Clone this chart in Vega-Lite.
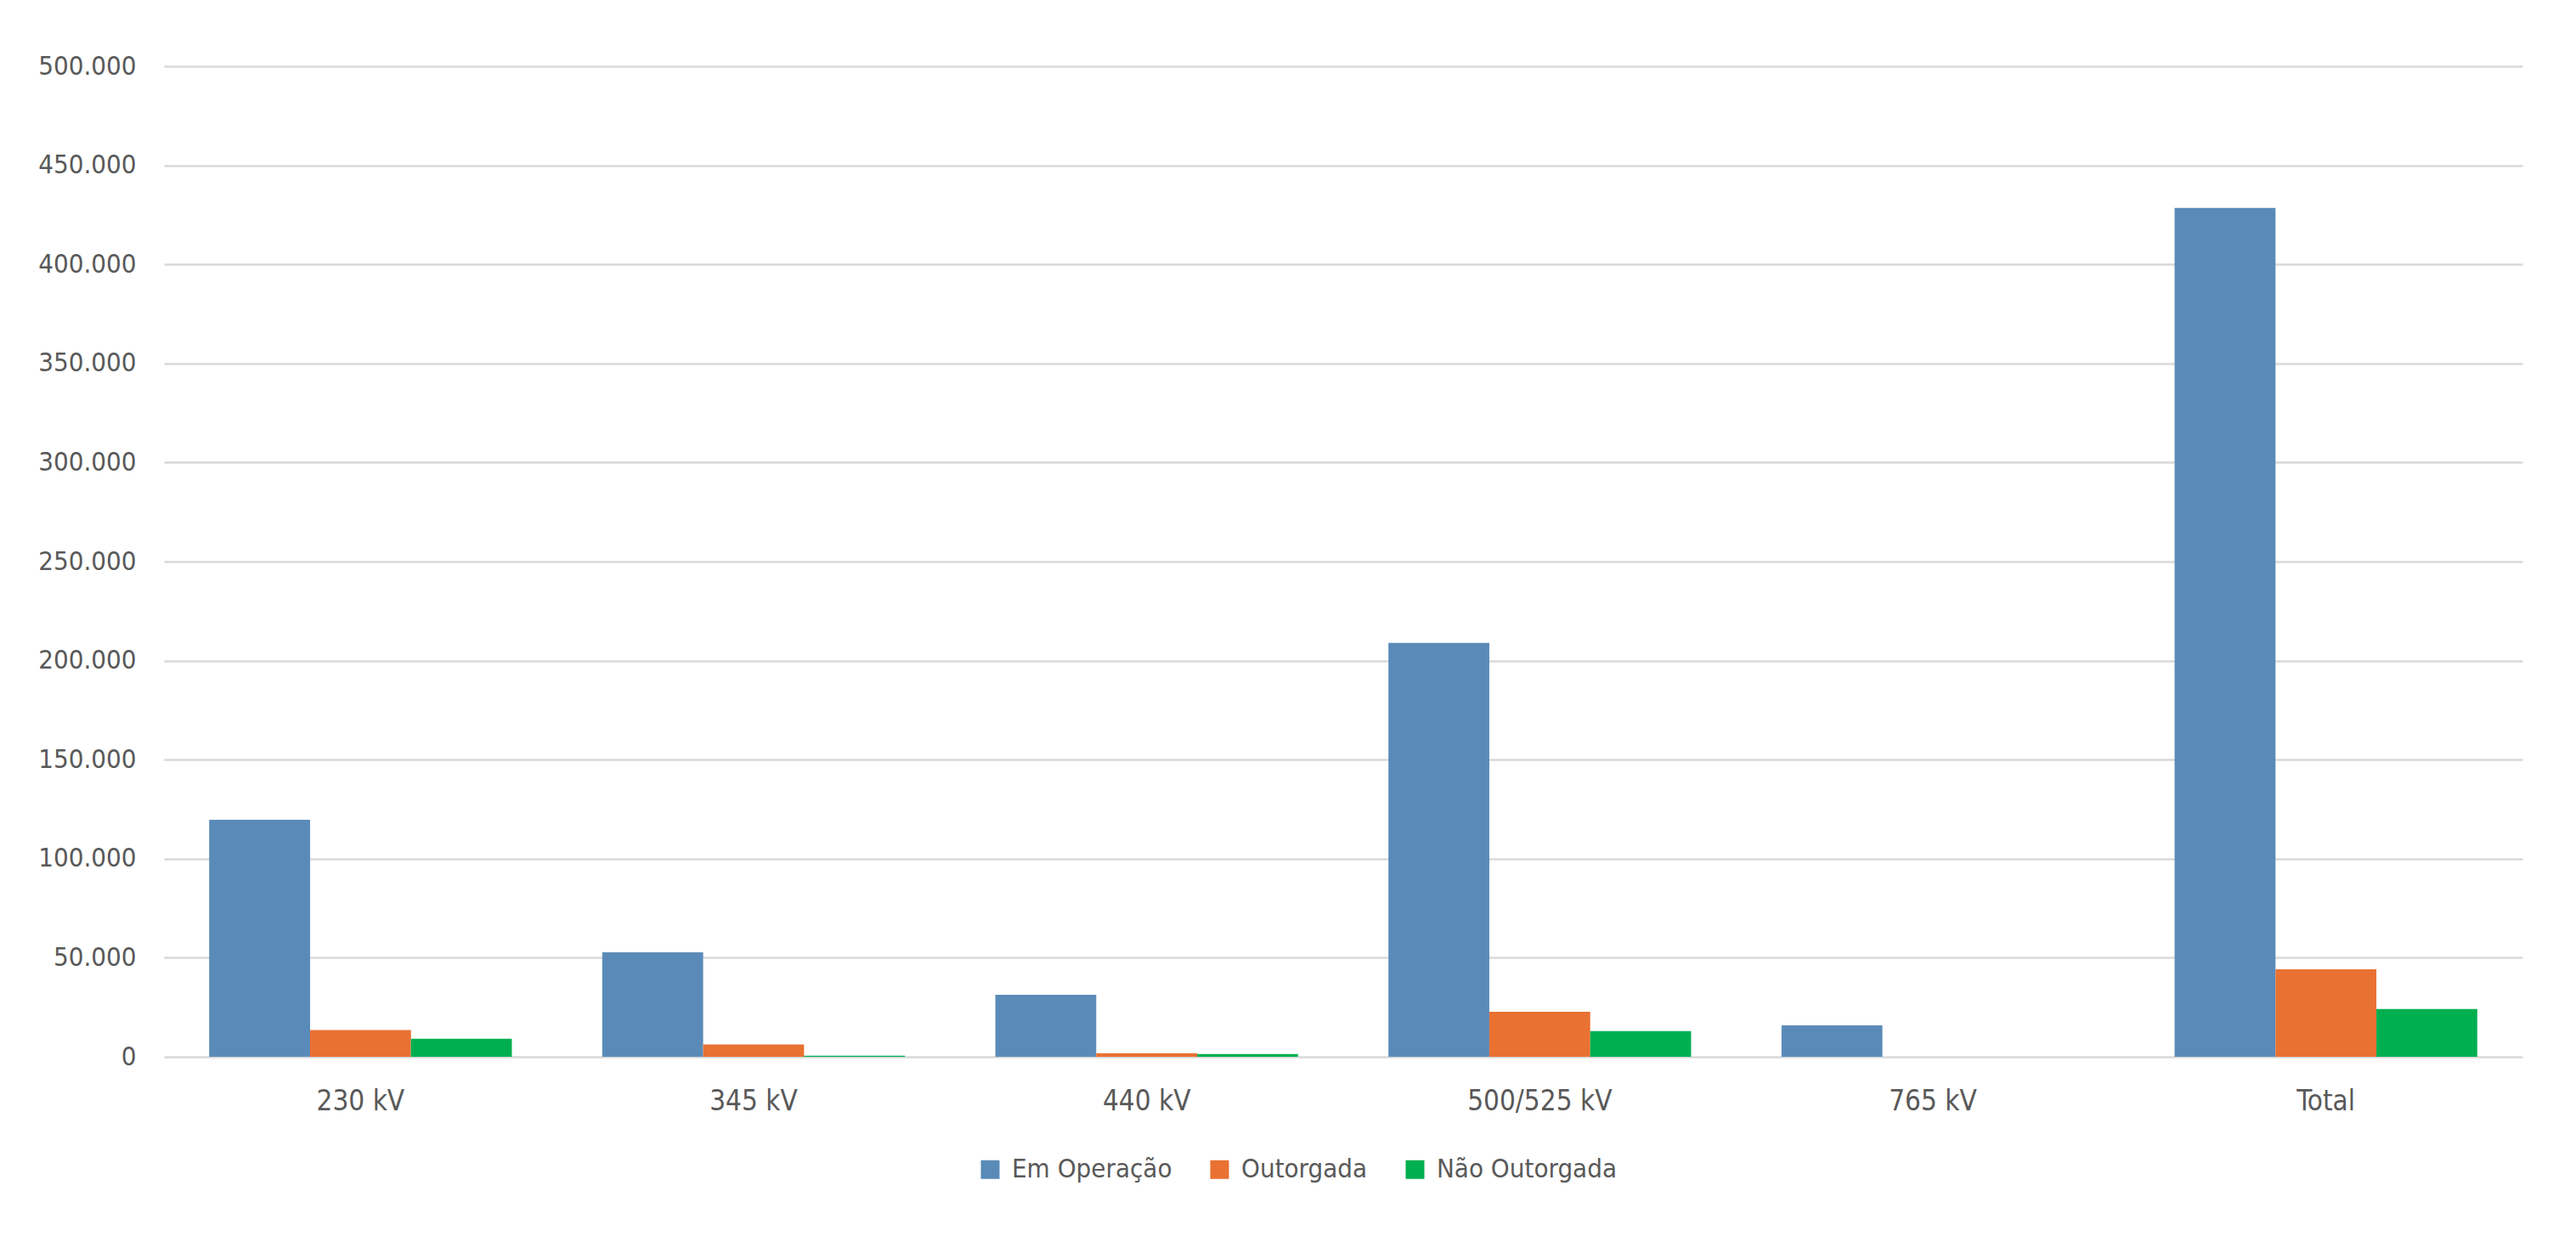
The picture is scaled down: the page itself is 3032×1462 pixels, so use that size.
{
  "$schema": "https://vega.github.io/schema/vega-lite/v6.json",
  "width": 2776,
  "height": 1166,
  "autosize": "none",
  "padding": {"left": 193, "top": 78, "right": 63, "bottom": 218},
  "background": "white",
  "config": {
    "view": {"stroke": null},
    "font": "Liberation Sans Narrow, DejaVu Sans Condensed, Roboto, sans-serif",
    "axis": {"labelFont": "Liberation Sans Narrow, DejaVu Sans Condensed, Roboto, sans-serif", "labelColor": "#595959", "labelLimit": 0}
  },
  "data": {
    "values": [
      {"tensao": "230 kV", "situacao": "Em Operação", "km": 119600},
      {"tensao": "230 kV", "situacao": "Outorgada", "km": 13500},
      {"tensao": "230 kV", "situacao": "Não Outorgada", "km": 9100},
      {"tensao": "345 kV", "situacao": "Em Operação", "km": 52700},
      {"tensao": "345 kV", "situacao": "Outorgada", "km": 6200},
      {"tensao": "345 kV", "situacao": "Não Outorgada", "km": 500},
      {"tensao": "440 kV", "situacao": "Em Operação", "km": 31300},
      {"tensao": "440 kV", "situacao": "Outorgada", "km": 1800},
      {"tensao": "440 kV", "situacao": "Não Outorgada", "km": 1400},
      {"tensao": "500/525 kV", "situacao": "Em Operação", "km": 208900},
      {"tensao": "500/525 kV", "situacao": "Outorgada", "km": 22700},
      {"tensao": "500/525 kV", "situacao": "Não Outorgada", "km": 13000},
      {"tensao": "765 kV", "situacao": "Em Operação", "km": 15900},
      {"tensao": "765 kV", "situacao": "Outorgada", "km": 0},
      {"tensao": "765 kV", "situacao": "Não Outorgada", "km": 0},
      {"tensao": "Total", "situacao": "Em Operação", "km": 428500},
      {"tensao": "Total", "situacao": "Outorgada", "km": 44200},
      {"tensao": "Total", "situacao": "Não Outorgada", "km": 24100}
    ]
  },
  "mark": {"type": "bar"},
  "encoding": {
    "x": {
      "field": "tensao",
      "type": "nominal",
      "sort": null,
      "title": null,
      "scale": {"paddingInner": 0.23, "paddingOuter": 0.115},
      "axis": {
        "domain": false,
        "ticks": false,
        "grid": false,
        "labelAngle": 0,
        "labelFontSize": 33,
        "labelPadding": 36
      }
    },
    "xOffset": {
      "field": "situacao",
      "type": "nominal",
      "sort": ["Em Operação", "Outorgada", "Não Outorgada"],
      "scale": {"paddingInner": 0, "paddingOuter": 0}
    },
    "y": {
      "field": "km",
      "type": "quantitative",
      "title": null,
      "scale": {"domain": [0, 500000], "nice": false},
      "axis": {
        "values": [0, 50000, 100000, 150000, 200000, 250000, 300000, 350000, 400000, 450000, 500000],
        "labelExpr": "replace(format(datum.value, ','), ',', '.')",
        "domain": false,
        "ticks": false,
        "gridColor": "#d9d9d9",
        "gridWidth": 2.5,
        "labelFontSize": 31,
        "labelPadding": 33
      }
    },
    "color": {
      "field": "situacao",
      "type": "nominal",
      "sort": ["Em Operação", "Outorgada", "Não Outorgada"],
      "scale": {
        "domain": ["Em Operação", "Outorgada", "Não Outorgada"],
        "range": ["#5a8bb8", "#e97132", "#00af50"]
      },
      "legend": {
        "title": null,
        "orient": "none",
        "direction": "horizontal",
        "legendX": 957,
        "legendY": 1283,
        "symbolType": "square",
        "symbolSize": 484,
        "symbolStrokeWidth": 0,
        "labelFont": "Liberation Sans Narrow, DejaVu Sans Condensed, Roboto, sans-serif",
        "labelFontSize": 31,
        "labelColor": "#595959",
        "labelLimit": 0,
        "labelOffset": 10,
        "columnPadding": 40
      }
    }
  }
}
